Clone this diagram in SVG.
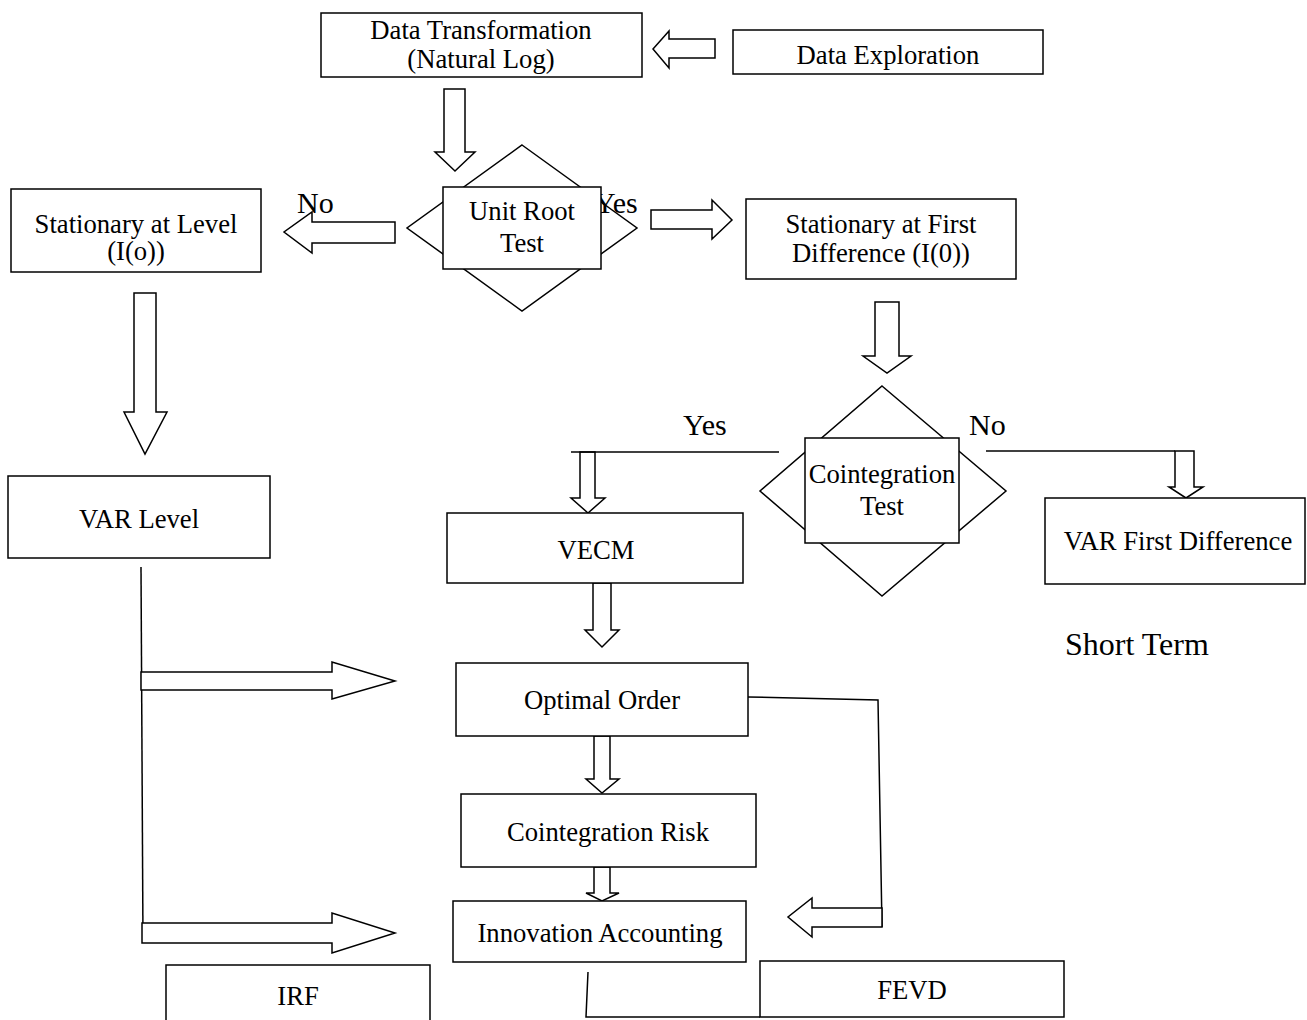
<svg xmlns="http://www.w3.org/2000/svg" width="1307" height="1020" viewBox="0 0 1307 1020">
<style>
.box{fill:#fff;stroke:#000;stroke-width:1.5}
.dia{fill:none;stroke:#000;stroke-width:1.5}
.arr{fill:#fff;stroke:#000;stroke-width:1.5;stroke-linejoin:miter}
.ln{fill:none;stroke:#000;stroke-width:1.5}
text{font-family:"Liberation Serif","Times New Roman",serif;font-size:26.67px;fill:#000}
.c{text-anchor:middle}
.lbl{font-size:30px}
</style>
<rect width="1307" height="1020" fill="#fff"/>
<g id="connectors">
<polygon class="arr" points="715,39 669,39 669,31 653,49 669,68 669,58 715,58"/>
<polygon class="arr" points="444,89 465,89 465,152 475,152 455,171 435,152 444,152"/>
<polygon class="arr" points="395,222 312,222 312,212 284,232 312,253 312,243 395,243"/>
<polygon class="arr" points="651,210 712,210 712,200 732,220 712,239 712,229 651,229"/>
<polygon class="arr" points="134,293 156,293 156,412 167,412 145,454 124,412 134,412"/>
<polygon class="arr" points="875,302 899,302 899,356 911,356 887,373 863,356 875,356"/>
<polygon class="arr" points="580,452 595,452 595,498 605,498 588,513 571,498 580,498"/>
<line class="ln" x1="571" y1="452" x2="779" y2="452"/>
<polygon class="arr" points="1175,451 1194,451 1194,487 1203,487 1186,498 1169,487 1175,487"/>
<line class="ln" x1="986" y1="451" x2="1175" y2="451"/>
<polygon class="arr" points="593,583 611,583 611,630 619,630 602,647 585,630 593,630"/>
<polygon class="arr" points="594,736 610,736 610,779 619,779 602,793 586,779 594,779"/>
<polygon class="arr" points="594,867 610,867 610,893 619,893 602,901 586,893 594,893"/>
<polyline class="ln" points="748,697 878,700 882,927"/>
<polygon class="arr" points="882,908 812,908 812,898 788,917 812,937 812,927 882,927"/>
<line class="ln" x1="141" y1="567" x2="143" y2="943"/>
<polygon class="arr" points="141,672 332,672 332,662 395,681 332,699 332,690 141,690"/>
<polygon class="arr" points="142,923 332,923 332,913 395,933 332,953 332,943 142,943"/>
<polyline class="ln" points="588,972 586,1017 760,1017"/>
<text class="lbl" x="297" y="213">No</text>
<text class="lbl" x="594" y="213">Yes</text>
<text class="lbl" x="683" y="435">Yes</text>
<text class="lbl" x="969" y="435">No</text>
</g>
<g id="data-transformation">
<rect class="box" x="321" y="13" width="321" height="64"/>
<text class="c" x="481" y="39">Data Transformation</text>
<text class="c" x="481" y="68">(Natural Log)</text>
</g>
<g id="data-exploration">
<rect class="box" x="733" y="30" width="310" height="44"/>
<text class="c" x="888" y="64">Data Exploration</text>
</g>
<g id="stationary-level">
<rect class="box" x="11" y="189" width="250" height="83"/>
<text class="c" x="136" y="233">Stationary at Level</text>
<text class="c" x="136" y="260">(I(o))</text>
</g>
<g id="unit-root-test">
<polygon class="dia" points="522,145 637,228 522,311 407,228"/>
<rect class="box" x="443" y="187" width="158" height="82"/>
<text class="c" x="522" y="220">Unit Root</text>
<text class="c" x="522" y="252">Test</text>
</g>
<g id="stationary-first-difference">
<rect class="box" x="746" y="199" width="270" height="80"/>
<text class="c" x="881" y="233">Stationary at First</text>
<text class="c" x="881" y="262">Difference (I(0))</text>
</g>
<g id="var-level">
<rect class="box" x="8" y="476" width="262" height="82"/>
<text class="c" x="139" y="528">VAR Level</text>
</g>
<g id="cointegration-test">
<polygon class="dia" points="882,386 1006,491 882,596 760,491"/>
<rect class="box" x="805" y="438" width="154" height="105"/>
<text class="c" x="882" y="483">Cointegration</text>
<text class="c" x="882" y="515">Test</text>
</g>
<g id="vecm">
<rect class="box" x="447" y="513" width="296" height="70"/>
<text class="c" x="596" y="559">VECM</text>
</g>
<g id="var-first-difference">
<rect class="box" x="1045" y="498" width="260" height="86"/>
<text class="c" x="1178" y="550">VAR First Difference</text>
</g>
<g id="short-term">
<text x="1065" y="655" style="font-size:32px">Short Term</text>
</g>
<g id="optimal-order">
<rect class="box" x="456" y="663" width="292" height="73"/>
<text class="c" x="602" y="709">Optimal Order</text>
</g>
<g id="cointegration-risk">
<rect class="box" x="461" y="794" width="295" height="73"/>
<text class="c" x="608" y="841">Cointegration Risk</text>
</g>
<g id="innovation-accounting">
<rect class="box" x="453" y="901" width="293" height="61"/>
<text class="c" x="600" y="942">Innovation Accounting</text>
</g>
<g id="irf">
<rect class="box" x="166" y="965" width="264" height="70"/>
<text class="c" x="298" y="1005">IRF</text>
</g>
<g id="fevd">
<rect class="box" x="760" y="961" width="304" height="56"/>
<text class="c" x="912" y="999">FEVD</text>
</g>
</svg>
